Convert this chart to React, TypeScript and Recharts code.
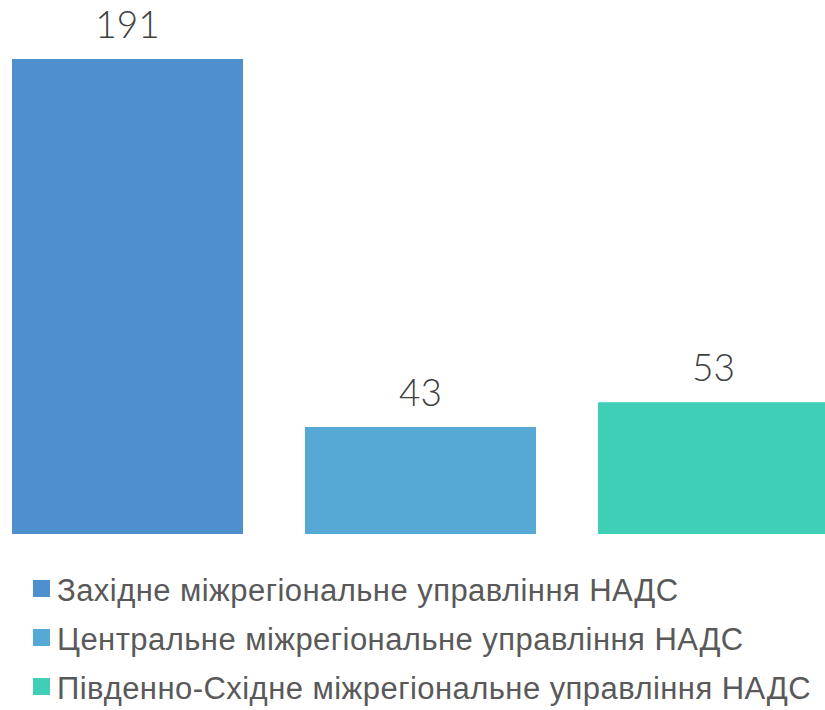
import React from "react";
import { BarChart, Bar, XAxis, YAxis, LabelList } from "recharts";

const seriesNames = [
  "Західне міжрегіональне управління НАДС",
  "Центральне міжрегіональне управління НАДС",
  "Південно-Східне міжрегіональне управління НАДС",
];
const seriesKeys = ["west", "central", "southeast"];
const seriesValues = [191, 43, 53];
const seriesColors = ["#4e90cd", "#56a9d5", "#3ecfb6"];

const row: Record<string, number | string> = { name: "" };
seriesKeys.forEach((k, i) => {
  row[k] = seriesValues[i];
});
const data = [row];

function LegendBlock() {
  return (
    <div
      style={{
        position: "absolute",
        top: 558,
        left: 25,
        width: 792,
        height: 144,
        overflow: "hidden",
        fontFamily: "'Liberation Sans', Arial, sans-serif",
        fontSize: 31,
        letterSpacing: 0.45,
        color: "#595959",
        lineHeight: "49px",
      }}
    >
      {seriesNames.map((n, i) => (
        <div key={n} style={{ position: "absolute", left: 0, top: i * 49, height: 46, width: 792, whiteSpace: "nowrap" }}>
          <span
            style={{
              position: "absolute",
              left: 0,
              top: 14,
              width: 17,
              height: 17,
              background: seriesColors[i],
            }}
          />
          <span style={{ position: "absolute", left: 24, top: 0 }}>{n}</span>
        </div>
      ))}
    </div>
  );
}

export default function App() {
  return (
    <div
      style={{
        position: "absolute",
        left: 8,
        top: 8,
        width: 817,
        height: 702,
        overflow: "hidden",
        background: "#ffffff",
      }}
    >
      <BarChart
        width={817}
        height={540}
        data={data}
        margin={{ top: 51, right: -5, left: 3, bottom: 14 }}
        barGap={62}
        barSize={231}
      >
        <XAxis dataKey="name" hide />
        <YAxis hide domain={[0, 191]} />
        {seriesKeys.map((k, i) => (
          <Bar key={k} dataKey={k} name={seriesNames[i]} fill={seriesColors[i]} isAnimationActive={false}>
            <LabelList
              dataKey={k}
              position="top"
              offset={21}
              style={{ fontFamily: "Lato, 'Open Sans', sans-serif", fontWeight: 300, fontSize: 37, fill: "#404040" }}
            />
          </Bar>
        ))}
      </BarChart>
      <LegendBlock />
    </div>
  );
}
